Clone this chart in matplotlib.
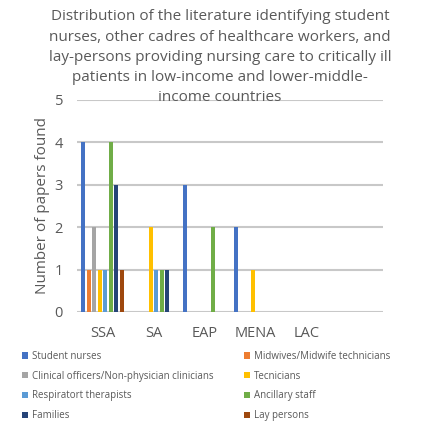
import numpy as np
import matplotlib.pyplot as plt

plt.rcParams['font.family'] = ['Open Sans', 'DejaVu Sans']

regions = ['SSA', 'SA', 'EAP', 'MENA', 'LAC']
series = ['Student nurses', 'Midwives/Midwife technicians',
          'Clinical officers/Non-physician clinicians', 'Tecnicians',
          'Respiratort therapists', 'Ancillary staff', 'Families', 'Lay persons']
colors = ['#4472C4', '#ED7D31', '#A5A5A5', '#FFC000',
          '#5B9BD5', '#70AD47', '#264478', '#9E480E']

student_nurses = [4, 0, 3, 2, 0]
midwives = [1, 0, 0, 0, 0]
clinical_officers = [2, 0, 0, 0, 0]
technicians = [1, 2, 0, 1, 0]
respiratory = [1, 1, 0, 0, 0]
ancillary = [4, 1, 2, 0, 0]
families = [3, 1, 0, 0, 0]
lay_persons = [1, 0, 0, 0, 0]
values = [student_nurses, midwives, clinical_officers, technicians,
          respiratory, ancillary, families, lay_persons]

txt = '#595959'
fig = plt.figure(figsize=(4.4, 4.25), dpi=100)
ax = fig.add_axes([0.175, 0.266, 0.695, 0.499])

x = np.arange(len(regions))
slot = 0.108
handles = []
for i, (name, vals, c) in enumerate(zip(series, values, colors)):
    b = ax.bar(x + (i - 3.5) * slot, vals, width=0.075, color=c, label=name, zorder=3)
    handles.append(b)

ax.set_xlim(-0.5, 5.5)
ax.set_ylim(0, 5)
ax.set_yticks(range(6))
ax.set_xticks(x)
ax.set_xticklabels(regions)
ax.tick_params(length=0, labelsize=10.5, colors=txt)
ax.tick_params(axis='y', pad=10)
ax.tick_params(axis='x', pad=10)
ax.yaxis.grid(True, color='#C8C8C8', linewidth=1.5)
ax.set_axisbelow(True)
for s in ax.spines.values():
    s.set_visible(False)
ax.set_ylabel('Number of papers found', fontsize=11, color=txt, labelpad=3)

fig.text(0.5, 0.978, 'Distribution of the literature identifying student\n'
         'nurses, other cadres of healthcare workers, and\n'
         'lay-persons providing nursing care to critically ill\n'
         'patients in low-income and lower-middle-\nincome countries',
         ha='center', va='top', fontsize=11, color=txt, linespacing=1.47)

order = [0, 2, 4, 6, 1, 3, 5, 7]
leg = fig.legend([handles[i] for i in order], [series[i] for i in order],
                 ncol=2, loc='upper left', bbox_to_anchor=(0.03, 0.195),
                 frameon=False, fontsize=7, handlelength=0.6, handleheight=0.6,
                 handletextpad=0.4, columnspacing=3.2, labelspacing=0.9)
for t in leg.get_texts():
    t.set_color(txt)

fig.savefig('out.png', dpi=100)
